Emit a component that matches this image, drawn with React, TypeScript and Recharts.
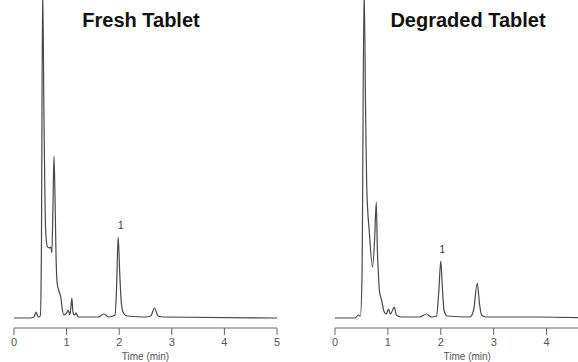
import React from 'react';
import { LineChart, Line, XAxis, YAxis, ReferenceDot } from 'recharts';

const freshTicks = [0, 1, 2, 3, 4, 5];
const degradedTicks = [0, 1, 2, 3, 4];

const freshTime = [0, 0.3, 0.38, 0.42, 0.46, 0.5, 0.52, 0.545, 0.57, 0.6, 0.63, 0.67, 0.7, 0.72, 0.74, 0.76, 0.78, 0.8, 0.82, 0.86, 0.89, 0.92, 0.95, 0.98, 1.0, 1.03, 1.06, 1.08, 1.1, 1.12, 1.15, 1.18, 1.22, 1.4, 1.6, 1.71, 1.8, 1.92, 1.95, 1.98, 2.01, 2.04, 2.08, 2.15, 2.5, 2.6, 2.67, 2.74, 2.85, 5.0];
const freshSignal = [0, 0, 1, 6, 1, 2, 60, 330, 200, 90, 72, 70, 71, 65, 110, 162, 120, 60, 35, 26, 21, 8, 3, 4, 5, 8, 3, 10, 20, 6, 3, 5, 1, 1, 1, 4, 1, 3, 30, 81, 45, 15, 5, 2, 1, 2, 10, 2, 1, 0];

const degradedTime = [0, 0.38, 0.44, 0.48, 0.51, 0.55, 0.58, 0.6, 0.65, 0.71, 0.75, 0.78, 0.8, 0.82, 0.84, 0.88, 0.93, 0.97, 1.01, 1.05, 1.09, 1.12, 1.16, 1.25, 1.6, 1.73, 1.82, 1.92, 1.96, 2.0, 2.03, 2.06, 2.12, 2.55, 2.62, 2.69, 2.73, 2.77, 2.85, 3.8, 5.0];
const degradedSignal = [0, 0, 3, 2, 40, 330, 200, 131, 85, 51, 80, 116, 70, 45, 27, 18, 6, 4, 9, 4, 8, 11, 3, 1, 1, 4, 1, 2, 25, 57, 30, 8, 2, 1, 8, 35, 15, 3, 1, 1, 0];

const peakLabel = '1';
const freshPeak = { t: 2.03, v: 81 };
const degradedPeak = { t: 2.03, v: 57 };

const build = (ts: number[], vs: number[]) => ts.map((t, i) => ({ t, v: vs[i] }));
const freshData = build(freshTime, freshSignal);
const degradedData = build(degradedTime, degradedSignal);

const FONT = '"Liberation Sans", Arial, sans-serif';

function Panel({ data, width, marginLeft, marginRight, peak, ticks }: any) {
  return (
    <LineChart width={width} height={362} data={data} margin={{ top: 0, right: marginRight, bottom: 0, left: marginLeft }}>
      <XAxis
        type="number"
        dataKey="t"
        domain={[0, 5]}
        ticks={ticks}
        interval={0}
        tickSize={7}
        tickMargin={3}
        height={34}
        stroke="#666"
        tick={{ fontSize: 11, fill: '#555', fontFamily: FONT }}
        label={{ value: 'Time (min)', position: 'insideBottom', offset: 2, fontSize: 10, fill: '#555', fontFamily: FONT }}
      />
      <YAxis hide type="number" domain={[-10, 318]} allowDataOverflow />
      <Line type="monotone" dataKey="v" stroke="#484848" strokeWidth={1.2} dot={false} isAnimationActive={false} />
      <ReferenceDot
        x={peak.t}
        y={peak.v}
        r={0}
        fill="none"
        stroke="none"
        label={{ value: peakLabel, position: 'top', offset: 8, fontSize: 10, fill: '#333', fontFamily: FONT }}
      />
    </LineChart>
  );
}

export default function App() {
  const titleStyle: React.CSSProperties = {
    position: 'absolute',
    top: 10,
    fontFamily: FONT,
    fontWeight: 'bold',
    fontSize: 20,
    lineHeight: '20px',
    color: '#111',
    whiteSpace: 'nowrap',
    transform: 'translateX(-50%)',
  };
  return (
    <div style={{ position: 'absolute', left: 0, top: 0, width: 578, height: 362, overflow: 'hidden', background: '#fff' }}>
      <div style={{ position: 'absolute', left: 0, top: 0 }}>
        <Panel data={freshData} width={290} marginLeft={14} marginRight={13} peak={freshPeak} ticks={freshTicks} />
      </div>
      <div style={{ position: 'absolute', left: 290, top: 0 }}>
        <Panel data={degradedData} width={312} marginLeft={45} marginRight={2.5} peak={degradedPeak} ticks={degradedTicks} />
      </div>
      <div style={{ ...titleStyle, left: 141 }}>Fresh Tablet</div>
      <div style={{ ...titleStyle, left: 468 }}>Degraded Tablet</div>
    </div>
  );
}
